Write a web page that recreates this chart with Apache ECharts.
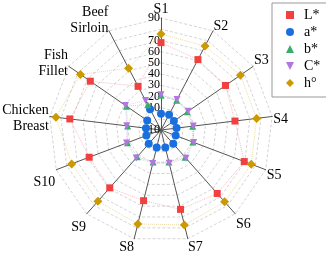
<!DOCTYPE html>
<html><head><meta charset="utf-8">
<script src="https://cdn.jsdelivr.net/npm/echarts@6/dist/echarts.min.js"></script>
<style>html,body{margin:0;padding:0;background:#fff}#c{width:326px;height:256px}</style>
</head><body><div id="c"></div>
<script>
const categories = ['S1','S2','S3','S4','S5','S6','S7','S8','S9','S10','Chicken\nBreast','Fish\nFillet','Beef\nSirloin'];
const seriesNames = ['L*','a*','b*','C*','h°'];
const Lvals = [68, 61, 60, 56.5, 69.5, 65.7, 63, 55, 59, 58.6, 72, 66.7, 34];
const aVals = [4.5, 5.5, 4, 4, 4, 6.5, 6, 6, 6.5, 4, 3.5, 5, 11];
const bVals = [21, 20, 18.5, 18.5, 20.5, 22.5, 19.5, 19.5, 22, 22, 20, 27.5, 15.5];
const CVals = [21.5, 20.8, 19.4, 19, 21.2, 23.7, 20.6, 20.7, 23.3, 22.9, 20.8, 28.6, 19.8];
const hVals = [75.7, 74.6, 76.2, 76, 76.2, 75.6, 77.3, 76.4, 74.9, 75.3, 84.5, 77.4, 52.3];
const radialTicks = [-10, 0, 10, 20, 30, 40, 50, 60, 70, 80, 90];

const colors = ['#f14040', '#1a6fdf', '#37ad6b', '#b177de', '#cc9900'];
const symbols = ['rect', 'circle', 'triangle', 'path://M0,0 L10,0 L5,10 Z', 'diamond'];
const symSizes = [7, 8, 7, 7, 9];
const valueSets = [Lvals, aVals, bVals, CVals, hVals];
// vertical nudge of each axis name (px, + = down), same order as categories
const nameShift = [0, -4, -5, 3, 5, 10, 8, 8, 13, 12, 2, -2, -10];

// ECharts radar places indicators counter-clockwise; reorder so they run clockwise
const order = [0];
for (let i = categories.length - 1; i >= 1; i--) order.push(i);

const font = 'Liberation Serif';
const rich = {};
nameShift.forEach(s => { const h = Math.abs(s) * 2; if (h) rich['v' + h] = { fontSize: 1, lineHeight: h }; });

const indicator = order.map(i => {
  const ind = { name: categories[i], min: radialTicks[0], max: radialTicks[radialTicks.length - 1], nameMoveOverlap: false, _idx: i };
  if (i === 0) {
    ind.axisLabel = { show: true, color: '#000', fontFamily: font, fontSize: 12, margin: 1, showMinLabel: true, showMaxLabel: true };
  }
  return ind;
});

const chart = echarts.init(document.getElementById('c'), null, { renderer: 'canvas' });
chart.setOption({
  animation: false,
  legend: {
    orient: 'vertical',
    left: 272, top: 3,
    padding: [5, 30, 7, 14],
    borderColor: '#999', borderWidth: 1,
    backgroundColor: '#fff',
    itemWidth: 8, itemHeight: 8, itemGap: 3,
    textStyle: { fontFamily: font, fontSize: 14, color: '#000', padding: [0, 0, 0, 5] },
    data: seriesNames.map((n, k) => ({ name: n, icon: symbols[k], itemStyle: { color: colors[k] } }))
  },
  radar: {
    center: [161, 130],
    radius: 112,
    startAngle: 90,
    shape: 'polygon',
    splitNumber: radialTicks.length - 1,
    indicator: indicator,
    nameGap: 1,
    axisName: {
      color: '#000', fontFamily: font, fontSize: 14, lineHeight: 16, rich: rich,
      formatter: function (name) {
        const i = categories.indexOf(name);
        const s = i >= 0 ? nameShift[i] : 0;
        if (!s) return name;
        const tag = '{v' + Math.abs(s) * 2 + '| }';
        return s > 0 ? tag + '\n' + name : name + '\n' + tag;
      }
    },
    axisLine: { show: true, lineStyle: { color: '#555', width: 1 } },
    axisTick: { show: false },
    axisLabel: { show: false },
    splitLine: { lineStyle: { color: '#d4d4d4', width: 1, type: [3, 2] } },
    splitArea: { show: false }
  },
  series: [{
    type: 'radar',
    data: seriesNames.map((n, k) => ({
      name: n,
      value: order.map(i => valueSets[k][i]),
      symbol: symbols[k],
      symbolSize: symSizes[k],
      itemStyle: { color: colors[k] },
      lineStyle: { color: colors[k], width: 1, type: 'dotted', opacity: 0.35 }
    }))
  }]
});
</script></body></html>
